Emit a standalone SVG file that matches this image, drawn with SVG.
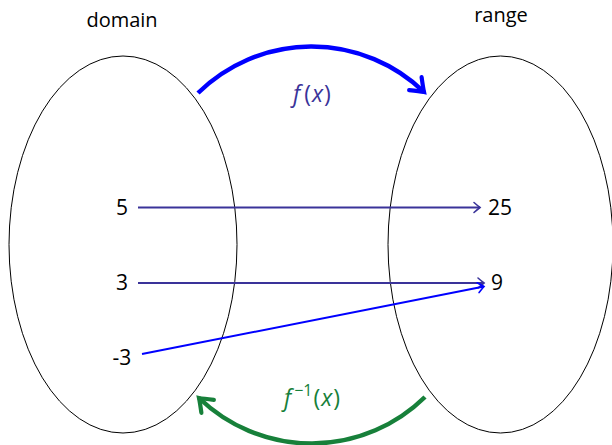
<svg xmlns="http://www.w3.org/2000/svg" width="612" height="445" viewBox="0 0 612 445">
<defs>
<style>
text{font-family:"Open Sans","DejaVu Sans",sans-serif;font-size:20px;fill:#000}
.num{font-size:21px}
.lab{font-size:23px}
.it{font-style:italic}
.set{fill:none;stroke:#000;stroke-width:1}
.map{fill:none;stroke:#3a3399;stroke-width:2}
.map2{fill:none;stroke:#0000ff;stroke-width:2}
.fw{fill:none;stroke:#0000ff;stroke-width:4.5}
.bw{fill:none;stroke:#17803a;stroke-width:4.5}
</style>
<marker id="aNavy" markerUnits="userSpaceOnUse" markerWidth="14" markerHeight="14" viewBox="-10 -7 12 14" refX="0" refY="0" orient="auto">
<path d="M-6,-5 Q-2,-1.5 0,0 Q-2,1.5 -6,5" fill="none" stroke="#3a3399" stroke-width="1.6" stroke-linecap="round"/>
</marker>
<marker id="aBlue" markerUnits="userSpaceOnUse" markerWidth="14" markerHeight="14" viewBox="-10 -7 12 14" refX="0" refY="0" orient="auto">
<path d="M-6,-5 Q-2,-1.5 0,0 Q-2,1.5 -6,5" fill="none" stroke="#0000ff" stroke-width="1.6" stroke-linecap="round"/>
</marker>
<marker id="bBlue" markerUnits="userSpaceOnUse" markerWidth="24" markerHeight="24" viewBox="-14 -10 16 20" refX="0" refY="0" orient="auto">
<path d="M-10,-7.5 Q-3,-2 0,0 Q-3,2 -10,7.5" fill="none" stroke="#0000ff" stroke-width="3.5" stroke-linecap="round"/>
</marker>
<marker id="bGreen" markerUnits="userSpaceOnUse" markerWidth="24" markerHeight="24" viewBox="-14 -10 16 20" refX="0" refY="0" orient="auto">
<path d="M-10,-7.5 Q-3,-2 0,0 Q-3,2 -10,7.5" fill="none" stroke="#17803a" stroke-width="3.5" stroke-linecap="round"/>
</marker>
</defs>
<g id="domain">
<ellipse class="set" cx="123" cy="244.5" rx="114" ry="188.5"/>
<text x="122" y="27" text-anchor="middle">domain</text>
</g>
<g id="range">
<ellipse class="set" cx="500.5" cy="244.5" rx="112.5" ry="188.5"/>
<text x="501" y="22" text-anchor="middle">range</text>
</g>
<g id="n5"><text class="num" x="122" y="215" text-anchor="middle">5</text></g>
<g id="n3"><text class="num" x="122" y="290" text-anchor="middle">3</text></g>
<g id="nm3"><text class="num" x="122" y="365" text-anchor="middle">-3</text></g>
<g id="n25"><text class="num" x="500" y="215" text-anchor="middle">25</text></g>
<g id="n9"><text class="num" x="497" y="290" text-anchor="middle">9</text></g>
<g id="connectors">
<line class="map" x1="138" y1="207.5" x2="480" y2="207.5" marker-end="url(#aNavy)"/>
<line class="map" x1="138" y1="283" x2="484" y2="283" marker-end="url(#aNavy)"/>
<line class="map2" x1="142" y1="354" x2="484" y2="286.5" marker-end="url(#aBlue)"/>
<path class="fw" d="M198,93 A162,162 0 0,1 424,92" marker-end="url(#bBlue)"/>
<path class="bw" d="M425,397 A162,162 0 0,1 199,398" marker-end="url(#bGreen)"/>
<text class="lab" x="312" y="102" text-anchor="middle" style="fill:#3a3399"><tspan class="it">f</tspan><tspan dx="4">(</tspan><tspan class="it" dx="1">x</tspan><tspan dx="1">)</tspan></text>
<text class="lab" x="312" y="406" text-anchor="middle" style="fill:#17803a"><tspan class="it">f</tspan><tspan dx="3" dy="-10" font-size="16">−1</tspan><tspan dx="1" dy="10">(</tspan><tspan class="it" dx="1">x</tspan><tspan dx="1">)</tspan></text>
</g>
</svg>
